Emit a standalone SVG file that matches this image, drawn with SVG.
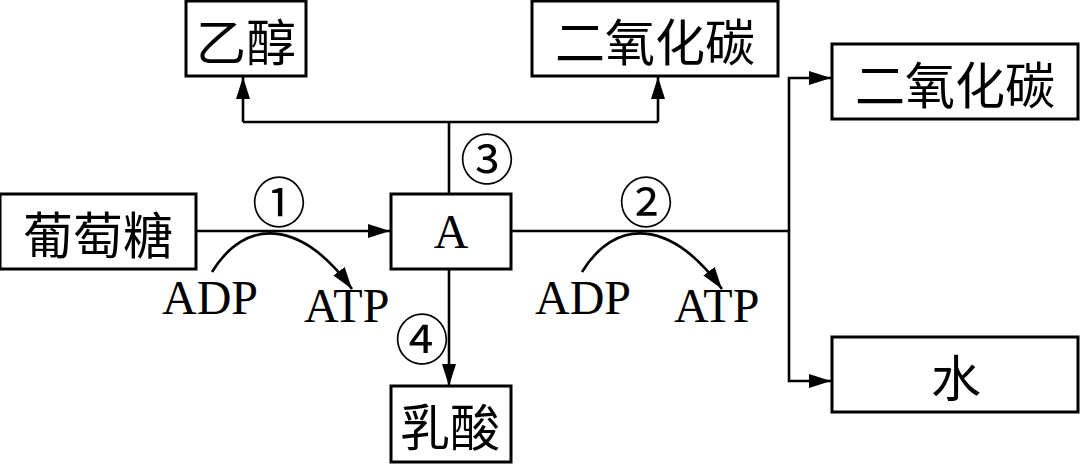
<svg xmlns="http://www.w3.org/2000/svg" width="1080" height="464" viewBox="0 0 1080 464">
<style>
.box{fill:#fff;stroke:#000;stroke-width:3}
.ln{fill:none;stroke:#000;stroke-width:2.6}
.cn{font-family:"Noto Sans CJK SC","Noto Sans CJK JP",sans-serif;font-size:50px;fill:#000;text-anchor:middle;dominant-baseline:central}
.lat{font-family:"Liberation Serif","Times New Roman",serif;font-size:48px;fill:#000}
.num{font-family:"Noto Sans CJK SC",sans-serif;font-size:54px;fill:#000;text-anchor:middle;dominant-baseline:central}
</style>
<defs>
<marker id="ah" markerUnits="userSpaceOnUse" markerWidth="24" markerHeight="14" refX="22" refY="7" orient="auto">
<path d="M0,0 L22,7 L0,14 Z" fill="#000"/>
</marker>
</defs>
<rect width="1080" height="464" fill="#fff"/>
<g id="connectors">
<path class="ln" d="M449,194 V122"/>
<path class="ln" d="M243,122 H658"/>
<path class="ln" d="M243,122 V77" marker-end="url(#ah)"/>
<path class="ln" d="M658,122 V77" marker-end="url(#ah)"/>
<path class="ln" d="M196,231 H390" marker-end="url(#ah)"/>
<path class="ln" d="M449,269 V386" marker-end="url(#ah)"/>
<path class="ln" d="M511,231 H789"/>
<path class="ln" d="M789,231 V78 H831" marker-end="url(#ah)"/>
<path class="ln" d="M789,231 V381 H831" marker-end="url(#ah)"/>
<path class="ln" d="M212,272 C245,218 300,218 352,289" marker-end="url(#ah)"/>
<path class="ln" d="M582,272 C615,218 670,218 722,289" marker-end="url(#ah)"/>
</g>
<g id="ethanol"><rect class="box" x="186" y="1" width="120" height="75"/><text class="cn" x="246" y="39">乙醇</text></g>
<g id="co2-top"><rect class="box" x="532" y="1" width="246" height="75"/><text class="cn" x="655" y="39">二氧化碳</text></g>
<g id="co2-right"><rect class="box" x="832" y="44" width="246" height="75"/><text class="cn" x="955" y="82">二氧化碳</text></g>
<g id="glucose"><rect class="box" x="0" y="194" width="196" height="75"/><text class="cn" x="98" y="232">葡萄糖</text></g>
<g id="A"><rect class="box" x="391" y="194" width="120" height="75"/><text class="lat" x="451" y="248" text-anchor="middle">A</text></g>
<g id="lactate"><rect class="box" x="391" y="386" width="120" height="76"/><text class="cn" x="450" y="424">乳酸</text></g>
<g id="water"><rect class="box" x="832" y="337" width="246" height="75"/><text class="cn" x="956" y="375">水</text></g>
<g id="labels">
<text class="num" x="279" y="199">①</text>
<text class="num" x="646" y="199">②</text>
<text class="num" x="487" y="156">③</text>
<text class="num" x="422" y="336">④</text>
<text class="lat" x="162" y="314">ADP</text>
<text class="lat" x="304" y="322">ATP</text>
<text class="lat" x="535" y="314">ADP</text>
<text class="lat" x="674" y="322">ATP</text>
</g>
</svg>
